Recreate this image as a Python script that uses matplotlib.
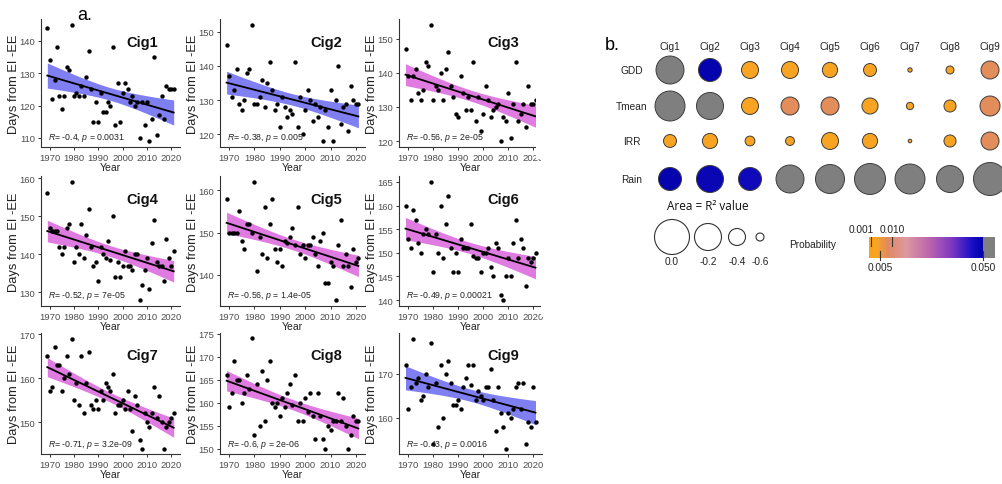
import numpy as np
import matplotlib
matplotlib.use("Agg")
import matplotlib.pyplot as plt
from matplotlib.colors import LinearSegmentedColormap
from matplotlib.patches import Rectangle

plt.rcParams["font.family"] = ["Liberation Sans", "DejaVu Sans"]
plt.rcParams["mathtext.fontset"] = "custom"
plt.rcParams["mathtext.it"] = "Liberation Sans:italic"
plt.rcParams["mathtext.rm"] = "Liberation Sans"

# ---------------- data (panel a) ----------------
years = list(range(1969, 2022))

cig1 = [144, 134, 122, 128, 138, 123, 119, 123, 132, 131, 145, 123, 124, 123, 126, 123, 129, 137, 125, 115,
        121, 115, 124, 118, 118, 121, 120, 138, 114, 127, 115, 124, 127, 125, 121, 123, 120, 121, 110, 121,
        114, 121, 109, 116, 135, 111, 117, 123, 116, 126, 125, 125, 125]
cig2 = [146, 137, 131, 133, 139, 129, 127, 130, 138, 139, 152, 129, 129, 131, 136, 128, 135, 141, 133, 127,
        129, 122, 131, 128, 125, 127, 126, 141, 122, 131, 120, 127, 133, 130, 124, 129, 125, 128, 118, 127,
        122, 133, 118, 130, 140, 123, 128, 129, 121, 134, 130, 129, 129]
cig3 = [147, 139, 132, 139, 141, 134, 132, 135, 143, 142, 154, 132, 136, 135, 140, 132, 141, 146, 136, 133,
        128, 127, 139, 134, 129, 133, 129, 143, 126, 133, 123, 128, 136, 132, 127, 129, 130, 131, 120, 127,
        126, 134, 121, 131, 143, 126, 128, 131, 124, 136, 131, 131, 132]
cig4 = [156, 147, 146, 146, 146, 142, 140, 142, 147, 148, 159, 138, 142, 140, 148, 139, 145, 152, 142, 137,
        138, 133, 142, 140, 139, 143.5, 138.5, 150, 134, 138, 134, 137, 141, 137, 137, 136, 140, 140, 128, 132,
        136, 139, 131, 143, 149, 138, 137, 137, 133, 144, 139, 137, 141]
cig5 = [158, 150, 150, 150, 150, 155, 148, 146, 152, 152, 150, 162, 141, 149, 145, 156, 144, 152, 158, 146,
        143, 146, 142, 148, 147.5, 149, 151, 147, 156, 145, 147, 144, 147, 147, 149, 145, 142, 148, 150, 138,
        138, 143, 142, 134, 147, 153, 142, 145, 142, 137, 146, 143, 144]
cig6 = [160, 153, 151, 159, 157, 152, 150, 154, 155, 154, 165, 146, 154, 150, 160, 149, 156, 162, 151, 146,
        150, 146, 153, 151, 151, 151, 156, 149.4, 149, 149, 146, 150, 150, 151, 147, 145, 152, 151, 141, 140,
        145, 149, 145, 152, 157, 149, 153, 151, 143, 149, 148, 149, 150]
cig7 = [165, 157, 158, 167, 163, 163, 157, 160, 165, 161, 169, 155, 159, 154, 165, 152, 159, 166, 154, 153,
        155, 153, 157, 155, 159, 158, 157, 161, 152, 154, 154, 155, 153, 157, 153, 148, 156, 154, 146, 144,
        152, 150, 149, 152, 158, 151, 156, 150, 144, 149, 150, 151, 152]
cig8 = [166, 159, 162, 169, 165, 165, 160, 162, 166, 163, 174, 153, 164, 155, 167, 156, 165, 169, 160, 159,
        160, 157, 161, 159, 162, 164, 159.5, 166, 156, 160, 156, 161, 158, 162, 157, 152, 162, 157, 152, 150,
        155, 154, 156, 156, 162, 156, 161, 155, 150, 153, 157, 156, 156]
cig9 = [172, 162, 167, 178, 168, 169, 164, 165, 170, 167, 177, 154, 168, 158, 172, 160, 170, 173, 168, 163,
        163, 164, 162, 167, 169, 172, 167.5, 172, 164, 166, 165, 164, 167, 167, 171, 164, 157, 167, 161, 158,
        153, 161, 160, 162, 167, 168, 162, 168, 154, 159, 158, 167, 159]

panel_values = [cig1, cig2, cig3, cig4, cig5, cig6, cig7, cig8, cig9]
panel_names = ["Cig1", "Cig2", "Cig3", "Cig4", "Cig5", "Cig6", "Cig7", "Cig8", "Cig9"]
r_text = ["-0.4", "-0.38", "-0.56", "-0.52", "-0.56", "-0.49", "-0.71", "-0.6", "-0.43"]
p_text = ["0.0031", "0.005", "2e-05", "7e-05", "1.4e-05", "0.00021", "3.2e-09", "2e-06", "0.0016"]
y_ticks = [[110, 120, 130, 140], [120, 130, 140, 150], [120, 130, 140, 150],
           [130, 140, 150, 160], [140, 150, 160], [140, 145, 150, 155, 160, 165],
           [150, 160, 170], [150, 155, 160, 165, 170, 175], [160, 170]]
x_ticks = [1970, 1980, 1990, 2000, 2010, 2020]

# ---------------- data (panel b) ----------------
cigs = ["Cig1", "Cig2", "Cig3", "Cig4", "Cig5", "Cig6", "Cig7", "Cig8", "Cig9"]
variables = ["GDD", "Tmean", "IRR", "Rain"]
r_gdd = [-0.175, -0.28, -0.40, -0.40, -0.44, -0.49, -0.70, -0.60, -0.38]
r_tmean = [-0.125, -0.20, -0.40, -0.38, -0.38, -0.42, -0.62, -0.51, -0.34]
r_irr = [-0.49, -0.44, -0.56, -0.58, -0.40, -0.44, -0.72, -0.51, -0.38]
r_rain = [-0.28, -0.20, -0.28, -0.175, -0.15, -0.10, -0.125, -0.20, -0.05]
p_gdd = [0.2, 0.049, 0.002, 0.002, 0.002, 0.002, 0.002, 0.002, 0.0075]
p_tmean = [0.3, 0.2, 0.002, 0.0075, 0.0075, 0.002, 0.002, 0.002, 0.0075]
p_irr = [0.002, 0.002, 0.002, 0.002, 0.002, 0.002, 0.002, 0.002, 0.0075]
p_rain = [0.049, 0.048, 0.047, 0.3, 0.3, 0.4, 0.4, 0.3, 0.5]
legend_r = [0.0, -0.2, -0.4, -0.6]
prob_ticks_top = [0.001, 0.010]
prob_ticks_bottom = [0.005, 0.050]

# ---------------- figure ----------------
W, H = 1003, 485
fig = plt.figure(figsize=(W / 100, H / 100), dpi=100)


def px_axes(left, top, width, height, **kw):
    return fig.add_axes([left / W, 1 - (top + height) / H, width / W, height / H], **kw)


col_left = [41, 220, 399]
col_w = [139, 145, 143]
row_top = [20, 177, 334]
row_h = [128, 130, 121]
xlabel_pad = [0.5, 0.5, 0.0]
band_blue = "#7f7ff2"
band_pink = "#e07be2"
band_colors = [band_blue, band_blue, band_pink, band_pink, band_pink, band_pink, band_pink, band_pink, band_blue]
axis_col = "#333333"
tick_col = "#4d4d4d"
t_crit = 2.008

for i in range(9):
    row, col = divmod(i, 3)
    ax = px_axes(col_left[col], row_top[row], col_w[col], row_h[row])
    x = np.array(years, dtype=float)
    y = np.array(panel_values[i], dtype=float)
    n = len(x)
    b, a = np.polyfit(x, y, 1)
    xs = np.linspace(x.min(), x.max(), 120)
    yhat = a + b * xs
    resid = y - (a + b * x)
    s = np.sqrt(np.sum(resid ** 2) / (n - 2))
    xm = x.mean()
    sxx = np.sum((x - xm) ** 2)
    se = s * np.sqrt(1 / n + (xs - xm) ** 2 / sxx)
    lo, hi = yhat - t_crit * se, yhat + t_crit * se
    ax.fill_between(xs, lo, hi, color=band_colors[i], lw=0, zorder=1)
    ax.plot(xs, yhat, color="black", lw=1.3, zorder=2)
    ax.scatter(x, y, s=10, color="black", lw=0, zorder=3)
    ymin = min(y.min(), lo.min())
    ymax = max(y.max(), hi.max())
    pad = 0.05 * (ymax - ymin)
    ax.set_ylim(ymin - pad, ymax + pad)
    xpad = 0.05 * (x.max() - x.min())
    ax.set_xlim(x.min() - xpad, x.max() + xpad)
    ax.set_xticks(x_ticks)
    ax.set_yticks(y_ticks[i])
    for sp in ["top", "right"]:
        ax.spines[sp].set_visible(False)
    for sp in ["left", "bottom"]:
        ax.spines[sp].set_color(axis_col)
        ax.spines[sp].set_linewidth(0.8)
    ax.tick_params(axis="both", direction="out", length=2.5, width=0.7, color=axis_col,
                   labelsize=6.8, labelcolor=tick_col, pad=1.5)
    ax.set_facecolor("none")
    ax.set_xlabel("Year", fontsize=7.5, labelpad=xlabel_pad[row], color="#222222")
    ax.set_ylabel("Days from EI -EE", fontsize=9.3, labelpad=0, color="#222222")
    ax.text(0.73, 0.82, panel_names[i], transform=ax.transAxes, ha="center", va="center",
            fontsize=10.5, fontweight="bold", color="#111111")
    ax.text(0.05, 0.035, "$R$= " + r_text[i] + ", $p$ = " + p_text[i], transform=ax.transAxes,
            ha="left", va="bottom", fontsize=6.3, color="#222222")

fig.text(85 / W, 1 - 15 / H, "a.", fontsize=13, ha="center", va="center")

# ---------------- panel b ----------------
axb = fig.add_axes([0, 0, 1, 1], facecolor="none")
axb.set_xlim(0, W)
axb.set_ylim(H, 0)
axb.axis("off")

# the source image of panel a is cropped on its right edge in rows 1 and 2
axb.add_patch(Rectangle((536, 0), 50, 160, color="white", lw=0, zorder=10))
axb.add_patch(Rectangle((541, 160), 45, 158, color="white", lw=0, zorder=10))

cmap = LinearSegmentedColormap.from_list("prob", [
    (0.00, (0.98, 0.64, 0.10)),
    (0.07, (0.97, 0.64, 0.15)),
    (0.16, (0.88, 0.54, 0.38)),
    (0.32, (0.87, 0.60, 0.63)),
    (0.52, (0.74, 0.40, 0.68)),
    (0.72, (0.50, 0.22, 0.76)),
    (0.90, (0.10, 0.06, 0.78)),
    (1.00, (0.00, 0.00, 0.66)),
])
grey = "#7f7f7f"
p_max = 0.05

r_anchor = [-0.75, -0.6, -0.4, -0.2, 0.0]
d_anchor = [2.5, 8, 17, 27, 35]


def diam(r):
    return np.interp(r, r_anchor, d_anchor)


def pcolor(p):
    return grey if p > p_max else cmap(p / p_max)


col_x0, col_dx = 670, 40
row_ys = [71, 107, 142, 180]
r_rows = [r_gdd, r_tmean, r_irr, r_rain]
p_rows = [p_gdd, p_tmean, p_irr, p_rain]

fig.text(612 / W, 1 - 45 / H, "b.", fontsize=13, ha="center", va="center")
for j, c in enumerate(cigs):
    axb.text(col_x0 + j * col_dx, 47, c, ha="center", va="center", fontsize=7.3, color="#222222")
for k, v in enumerate(variables):
    axb.text(632, row_ys[k], v, ha="center", va="center", fontsize=7.3, color="#222222")
    xs_b = [col_x0 + j * col_dx for j in range(len(cigs))]
    sizes = [(diam(r) * 0.72) ** 2 for r in r_rows[k]]
    colors = [pcolor(p) for p in p_rows[k]]
    axb.scatter(xs_b, [row_ys[k]] * len(cigs), s=sizes, c=colors, edgecolors="#3d3d3d",
                linewidths=0.7, zorder=3, clip_on=False)

# size legend
axb.text(667, 207, "Area = R² value", ha="left", va="center", fontsize=8.5,
         family=["Open Sans", "DejaVu Sans"], color="#111111")
leg_x = [672, 708, 737, 760]
axb.scatter(leg_x, [238] * 4, s=[(diam(r) * 0.72) ** 2 for r in legend_r], facecolors="white",
            edgecolors="#333333", linewidths=0.8)
for xx, r in zip(leg_x, legend_r):
    axb.text(xx, 262, f"{r:.1f}", ha="center", va="center", fontsize=7.3, color="#222222")

# probability colour bar
axb.text(813, 245, "Probability", ha="center", va="center", fontsize=7.3, color="#222222")
grey_extra = 0.00526
cax = px_axes(869, 238, 126, 21)
grad = np.linspace(0, p_max, 300).reshape(1, -1)
cax.imshow(grad, cmap=cmap, aspect="auto", extent=[0, p_max, 0, 1], vmin=0, vmax=p_max)
cax.add_patch(Rectangle((p_max, 0), grey_extra, 1, color=grey, lw=0))
cax.set_xlim(0, p_max + grey_extra)
cax.set_ylim(0, 1)
cax.axis("off")
for p in prob_ticks_top:
    cax.plot([p, p], [0.55, 1.0], color="#333333", lw=0.8)
for p in prob_ticks_bottom:
    cax.plot([p, p], [-0.1, 0.35], color="#333333", lw=0.8, clip_on=False)


def bar_x(p):
    return 869 + 114 * p / p_max


axb.text(bar_x(prob_ticks_top[0]) + 3, 230, f"{prob_ticks_top[0]:.3f}", ha="right", va="center",
         fontsize=7.3, color="#222222")
axb.text(bar_x(prob_ticks_top[1]), 230, f"{prob_ticks_top[1]:.3f}", ha="center", va="center",
         fontsize=7.3, color="#222222")
for p in prob_ticks_bottom:
    axb.text(bar_x(p), 268, f"{p:.3f}", ha="center", va="center", fontsize=7.3, color="#222222")

fig.savefig("out.png", dpi=100)
